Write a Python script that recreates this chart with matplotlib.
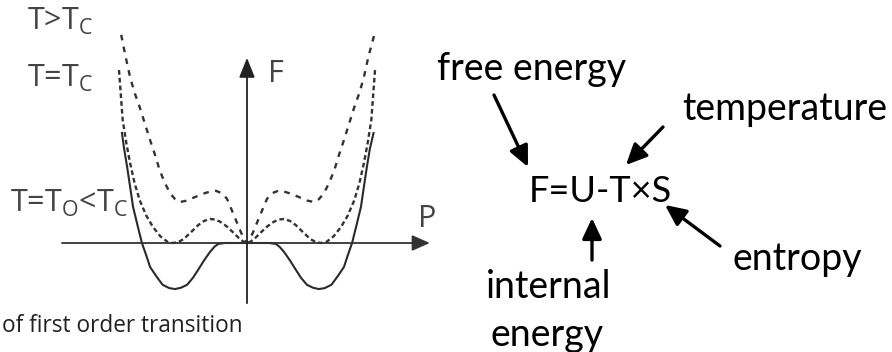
import matplotlib
matplotlib.use("Agg")
import matplotlib.pyplot as plt

plt.rcParams['mathtext.fontset'] = 'custom'
plt.rcParams['mathtext.rm'] = 'Open Sans'

# Landau free energy curves (P, F)
P_above = [-1.70, -1.64, -1.58, -1.52, -1.45, -1.38, -1.31, -1.24, -1.18, -1.11, -1.04, -0.97, -0.91,
           -0.82, -0.73, -0.65, -0.57, -0.49, -0.42, -0.34, -0.27, -0.19, -0.14, -0.08, -0.03, 0.0,
           0.03, 0.08, 0.14, 0.19, 0.27, 0.34, 0.42, 0.49, 0.57, 0.65, 0.73, 0.82,
           0.91, 0.97, 1.04, 1.11, 1.18, 1.24, 1.31, 1.38, 1.45, 1.52, 1.58, 1.64, 1.72]
F_above = [4.43, 3.96, 3.53, 3.20, 2.89, 2.54, 2.19, 1.86, 1.55, 1.28, 1.06, 0.93, 0.87,
           0.90, 0.96, 1.01, 1.06, 1.10, 1.11, 1.06, 0.94, 0.64, 0.45, 0.22, 0.06, 0.0,
           0.06, 0.22, 0.45, 0.64, 0.94, 1.06, 1.11, 1.10, 1.06, 1.01, 0.96, 0.90,
           0.87, 0.93, 1.06, 1.28, 1.55, 1.86, 2.19, 2.54, 2.89, 3.20, 3.53, 3.96, 4.43]

P_crit = [-1.73, -1.68, -1.63, -1.58, -1.52, -1.45, -1.36, -1.27, -1.17, -1.07, -1.00, -0.93, -0.86,
          -0.77, -0.66, -0.58, -0.50, -0.43, -0.36, -0.28, -0.19, -0.12, -0.05, 0.0,
          0.05, 0.12, 0.19, 0.28, 0.36, 0.43, 0.50, 0.58, 0.66, 0.77,
          0.86, 0.93, 1.00, 1.07, 1.17, 1.27, 1.36, 1.45, 1.52, 1.58, 1.63, 1.68, 1.73]
F_crit = [3.68, 2.62, 2.12, 1.70, 1.28, 0.91, 0.58, 0.34, 0.14, 0.02, 0.0, 0.02, 0.08,
          0.21, 0.38, 0.47, 0.51, 0.50, 0.45, 0.36, 0.23, 0.12, 0.03, 0.0,
          0.03, 0.12, 0.23, 0.36, 0.45, 0.50, 0.51, 0.47, 0.38, 0.21,
          0.08, 0.02, 0.0, 0.02, 0.14, 0.34, 0.58, 0.91, 1.28, 1.70, 2.12, 2.62, 3.68]

P_below = [-1.69, -1.66, -1.62, -1.58, -1.54, -1.48, -1.42, -1.36, -1.31, -1.22, -1.14, -1.05, -0.97,
           -0.89, -0.81, -0.73, -0.66, -0.58, -0.50, -0.44, -0.39, -0.30, -0.20, 0.0,
           0.20, 0.30, 0.39, 0.44, 0.50, 0.58, 0.66, 0.73, 0.81, 0.89,
           0.97, 1.05, 1.14, 1.22, 1.31, 1.36, 1.42, 1.48, 1.54, 1.58, 1.62, 1.66, 1.71]
F_below = [2.34, 2.00, 1.62, 1.20, 0.77, 0.38, 0.0, -0.27, -0.51, -0.72, -0.89, -0.96, -0.98,
           -0.95, -0.89, -0.74, -0.57, -0.37, -0.19, -0.08, -0.02, 0.0, 0.0, 0.0,
           0.0, 0.0, -0.02, -0.08, -0.19, -0.37, -0.57, -0.74, -0.89, -0.95,
           -0.98, -0.96, -0.89, -0.72, -0.51, -0.27, 0.0, 0.38, 0.77, 1.20, 1.62, 2.00, 2.34]

fig = plt.figure(figsize=(8.92, 3.52), dpi=100)

# plot axes: whole figure, P=0 at x=247px, F=0 at y=243px
ax = fig.add_axes([0, 0, 1, 1])
ax.set_xlim(-247 / 74, (892 - 247) / 74)
ax.set_ylim(-109 / 47, 243 / 47)
ax.axis('off')

ax.plot(P_above, F_above, color='#333333', lw=1.7, ls=(0, (2.4, 2.7)))
ax.plot(P_crit, F_crit, color='#333333', lw=1.7, ls=(0, (2.0, 1.3)))
ax.plot(P_below, F_below, color='#2a2a2a', lw=1.5)

ax.annotate('', xy=(2.47, 0), xytext=(-2.5, 0),
            arrowprops=dict(arrowstyle='-|>,head_length=0.9,head_width=0.4', mutation_scale=12,
                            color='#333333', lw=1.3, shrinkA=0, shrinkB=0))
ax.annotate('', xy=(0, 3.94), xytext=(0, -1.28),
            arrowprops=dict(arrowstyle='-|>,head_length=1.0,head_width=0.4', mutation_scale=12,
                            color='#222222', lw=1.3, shrinkA=0, shrinkB=0))

# overlay in pixels for labels and the formula sketch
ov = fig.add_axes([0, 0, 1, 1])
ov.set_xlim(0, 892)
ov.set_ylim(352, 0)
ov.axis('off')
ov.patch.set_alpha(0)

lab = dict(family='Open Sans', color='#444444', fontsize=22, va='baseline', ha='left')
ov.text(27, 30, r'T>T$_\mathrm{C}$', **lab)
ov.text(27, 87, r'T=T$_\mathrm{C}$', **lab)
ov.text(10, 212, r'T=T$_\mathrm{O}$<T$_\mathrm{C}$', **lab)
ov.text(268, 82, 'F', **lab)
ov.text(418, 227, 'P', **lab)
ov.text(2, 332, 'of first order transition', family='Open Sans', color='#222222',
        fontsize=16.3, va='baseline', ha='left')

txt = dict(family='Lato', color='black', fontsize=27, va='baseline', ha='left')
ov.text(437, 80, 'free energy', **txt)
ov.text(682, 120, 'temperature', **txt)
ov.text(529, 202, 'F=U-T×S', family='Lato', color='black', fontsize=26, va='baseline', ha='left')
ov.text(732, 270, 'entropy', **txt)
ov.text(486, 298, 'internal', **txt)
ov.text(491, 346, 'energy', **txt)

arr = dict(arrowstyle='-|>,head_length=0.9,head_width=0.42', mutation_scale=14,
           color='black', lw=2.4, shrinkA=0, shrinkB=0)
ov.annotate('', xy=(528, 167), xytext=(494, 95), arrowprops=arr)
ov.annotate('', xy=(626, 165), xytext=(663, 127), arrowprops=arr)
ov.annotate('', xy=(665, 205), xytext=(720, 246), arrowprops=arr)
ov.annotate('', xy=(592, 218), xytext=(592, 260), arrowprops=arr)

fig.savefig('out.png', dpi=100)
